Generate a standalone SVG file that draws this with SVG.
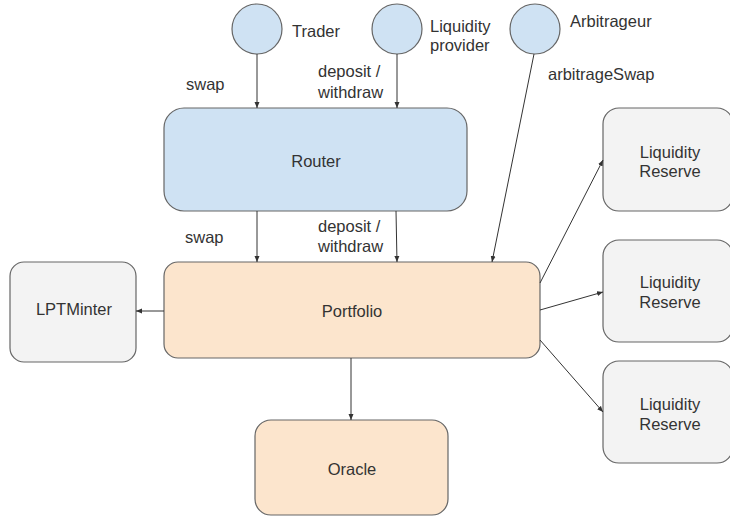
<svg xmlns="http://www.w3.org/2000/svg" width="730" height="518" viewBox="0 0 730 518">
<style>
text{font-family:"Liberation Sans",Arial,sans-serif;font-size:16.5px;fill:#333}
.actor{fill:#cfe2f3;stroke:#666;stroke-width:1.2}
.blue{fill:#cfe2f3;stroke:#666;stroke-width:1.2}
.peach{fill:#fce5cd;stroke:#666;stroke-width:1.2}
.grey{fill:#f3f3f3;stroke:#666;stroke-width:1.2}
.conn line{stroke:#333;stroke-width:1}
</style>
<defs>
<marker id="ah" viewBox="0 0 6 6" refX="6" refY="3" markerWidth="6" markerHeight="6" orient="auto" markerUnits="userSpaceOnUse">
<path d="M0,0.5 L6,3 L0,5.5 z" fill="#333"/>
</marker>
</defs>
<rect width="730" height="518" fill="#fff"/>
<g id="trader"><circle class="actor" cx="257" cy="29" r="25"/><text x="292" y="37">Trader</text></g>
<g id="lp"><circle class="actor" cx="397" cy="29" r="25"/><text x="430" y="32">Liquidity</text><text x="430" y="51">provider</text></g>
<g id="arb"><circle class="actor" cx="535" cy="29" r="25"/><text x="570" y="27">Arbitrageur</text></g>
<g id="router"><rect class="blue" x="164" y="108" width="303" height="103" rx="20"/><text x="316" y="167" text-anchor="middle">Router</text></g>
<g id="portfolio"><rect class="peach" x="164" y="262" width="376" height="96" rx="14"/><text x="352" y="317" text-anchor="middle">Portfolio</text></g>
<g id="lptminter"><rect class="grey" x="10" y="262" width="126" height="100" rx="14"/><text x="74" y="315" text-anchor="middle">LPTMinter</text></g>
<g id="oracle"><rect class="peach" x="255" y="420" width="193" height="95" rx="16"/><text x="352" y="475" text-anchor="middle">Oracle</text></g>
<g id="reserve1"><rect class="grey" x="603" y="108" width="130" height="103" rx="16"/><text x="670" y="158" text-anchor="middle">Liquidity</text><text x="670" y="177" text-anchor="middle">Reserve</text></g>
<g id="reserve2"><rect class="grey" x="603" y="240" width="130" height="102" rx="16"/><text x="670" y="288" text-anchor="middle">Liquidity</text><text x="670" y="308" text-anchor="middle">Reserve</text></g>
<g id="reserve3"><rect class="grey" x="603" y="361" width="130" height="102" rx="16"/><text x="670" y="410" text-anchor="middle">Liquidity</text><text x="670" y="430" text-anchor="middle">Reserve</text></g>
<g id="connectors" class="conn">
<line x1="257" y1="54" x2="257" y2="108" marker-end="url(#ah)"/>
<line x1="397" y1="54" x2="397" y2="108" marker-end="url(#ah)"/>
<line x1="257" y1="211" x2="257" y2="262" marker-end="url(#ah)"/>
<line x1="396" y1="211" x2="397" y2="262" marker-end="url(#ah)"/>
<line x1="534" y1="54" x2="492" y2="262" marker-end="url(#ah)"/>
<line x1="164" y1="311" x2="136" y2="311" marker-end="url(#ah)"/>
<line x1="351" y1="358" x2="351" y2="420" marker-end="url(#ah)"/>
<line x1="540" y1="283" x2="603" y2="160" marker-end="url(#ah)"/>
<line x1="540" y1="310" x2="603" y2="292" marker-end="url(#ah)"/>
<line x1="540" y1="340" x2="603" y2="412" marker-end="url(#ah)"/>
</g>
<g id="labels">
<text x="186" y="90">swap</text>
<text x="318" y="77">deposit /</text>
<text x="318" y="98">withdraw</text>
<text x="548" y="80">arbitrageSwap</text>
<text x="185" y="243">swap</text>
<text x="318" y="232">deposit /</text>
<text x="318" y="252">withdraw</text>
</g>
</svg>
